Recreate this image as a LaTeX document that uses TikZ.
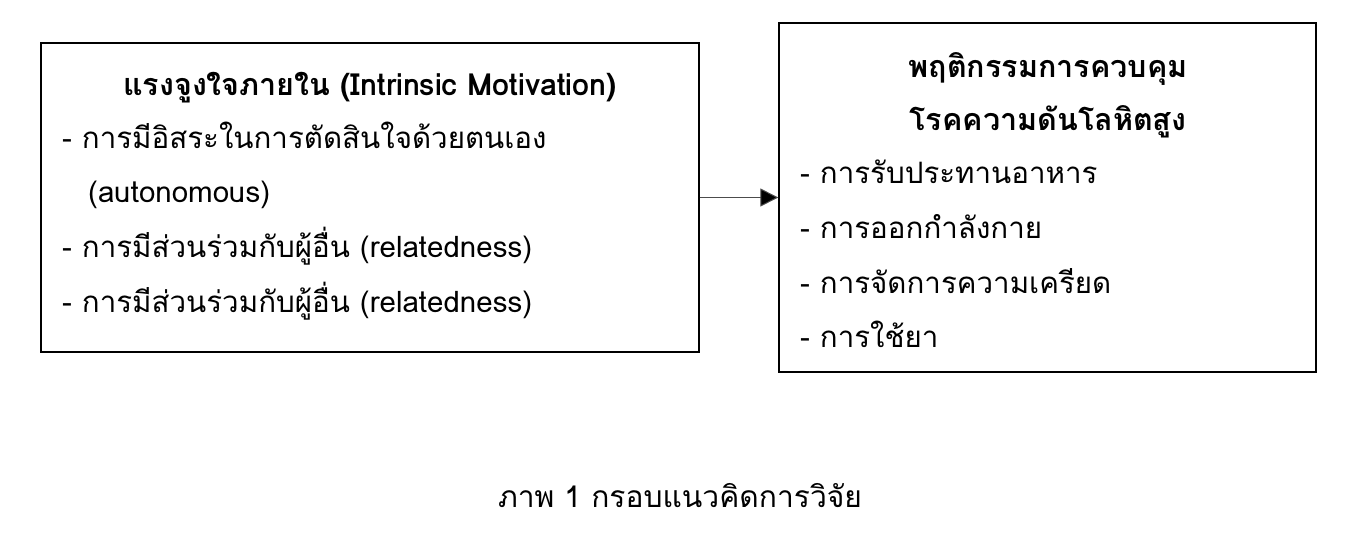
\documentclass[tikz,border=0pt]{standalone}
\usepackage{fontspec}
\newfontfamily\thaifont[Script=Thai]{Loma}
\usetikzlibrary{arrows.meta}

\begin{document}
\begin{tikzpicture}[x=1pt,y=-1pt,
    framebox/.style={draw,line width=1.3pt,minimum width=#1,inner sep=0pt},
    headline/.style={anchor=base,inner sep=0pt,font=\thaifont\fontsize{30.5}{36}\selectfont\bfseries},
    itemline/.style={anchor=base west,inner sep=0pt,font=\thaifont\fontsize{29.5}{36}\selectfont}]
    \useasboundingbox (0,0) rectangle (1350,541);
    %% Draw the boxes
    \node[framebox=658pt,minimum height=309pt] (motive) at (370,197.5) {};
    \node[framebox=537pt,minimum height=349pt] (control) at (1047.5,197.5) {};
    %% Draw the left texts
    \node[headline] (motiveT) at (370,95) {แรงจูงใจภายใน (Intrinsic Motivation)};
    \node[itemline] (motiveA) at (62,148) {- การมีอิสระในการตัดสินใจด้วยตนเอง};
    \node[itemline] (motiveB) at (88,202) {(autonomous)};
    \node[itemline] (motiveC) at (62,257) {- การมีส่วนร่วมกับผู้อื่น (relatedness)};
    \node[itemline] (motiveD) at (62,312) {- การมีส่วนร่วมกับผู้อื่น (relatedness)};
    %% Draw the right texts
    \node[headline] (controlT) at (1048,77) {พฤติกรรมการควบคุม};
    \node[headline] (controlU) at (1048,130) {โรคความดันโลหิตสูง};
    \node[itemline] (controlA) at (800,183) {- การรับประทานอาหาร};
    \node[itemline] (controlB) at (800,238) {- การออกกำลังกาย};
    \node[itemline] (controlC) at (800,293) {- การจัดการความเครียด};
    \node[itemline] (controlD) at (800,347) {- การใช้ยา};
    %% Draw the caption
    \node[anchor=base,inner sep=0pt,font=\thaifont\fontsize{30}{36}\selectfont] (caption) at (680,507) {ภาพ 1 กรอบแนวคิดการวิจัย};
    %% Draw the edge
    \draw[line width=1pt,black!70,-{Triangle[length=18pt,width=18pt,fill=black]}] (motive.east) -- (control.west);
\end{tikzpicture}
\end{document}
